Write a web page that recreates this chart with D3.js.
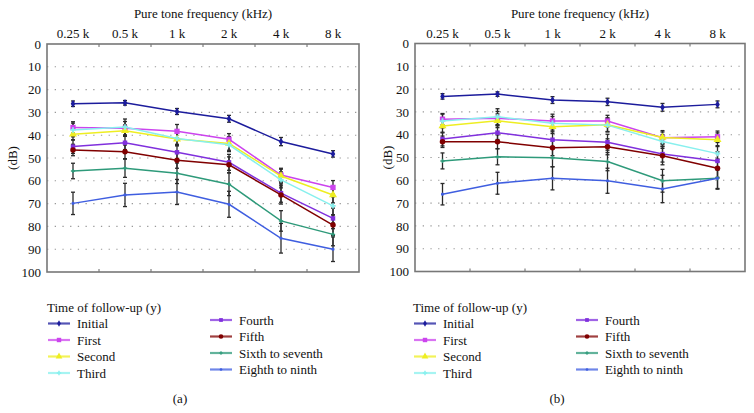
<!DOCTYPE html>
<html>
<head>
<meta charset="utf-8">
<script src="https://cdn.jsdelivr.net/npm/d3@7"></script>
<style>
  html, body { margin: 0; padding: 0; background: #fff; }
  svg { display: block; }
  text { font-family: "Liberation Serif", "Times New Roman", serif; fill: #111; }
</style>
</head>
<body>
<svg id="chart" width="754" height="413"></svg>
<script>
// ---------- data ----------
const frequencies = ["0.25 k", "0.5 k", "1 k", "2 k", "4 k", "8 k"];
const seriesNames = ["Initial", "First", "Second", "Third", "Fourth", "Fifth", "Sixth to seventh", "Eighth to ninth"];
const seriesColors = ["#1c1c9c", "#cc44ee", "#eeee22", "#88f0ee", "#8030dd", "#800000", "#2e9a7a", "#3f5ee0"];
const yTicks = [0, 10, 20, 30, 40, 50, 60, 70, 80, 90, 100];
const legendTitle = "Time of follow-up (y)";
const xTitle = "Pure tone frequency (kHz)";
const yTitle = "(dB)";
const panelCaptions = ["(a)", "(b)"];

// Panel (a) means (dB)
const aInitial = [26.2, 25.8, 29.6, 32.8, 42.8, 48.2];
const aFirst   = [36.6, 37.0, 38.3, 41.8, 57.5, 62.9];
const aSecond  = [39.6, 38.0, 41.7, 43.6, 57.9, 66.2];
const aThird   = [37.7, 36.4, 41.4, 44.2, 59.6, 71.0];
const aFourth  = [45.0, 43.3, 47.5, 51.9, 65.4, 76.5];
const aFifth   = [46.5, 47.3, 51.0, 53.0, 66.2, 79.4];
const aSixth   = [55.7, 54.5, 56.7, 61.5, 77.6, 83.5];
const aEighth  = [69.9, 66.2, 64.9, 70.3, 85.2, 90.0];
// Panel (a) errors (± dB)
const aInitialErr = [1.2, 1.0, 1.3, 1.5, 1.8, 1.4];
const aFirstErr   = [2.5, 3.0, 3.0, 2.5, 3.0, 3.0];
const aSecondErr  = [2.5, 2.5, 3.0, 3.0, 3.0, 3.5];
const aThirdErr   = [3.0, 3.5, 3.0, 3.0, 3.5, 4.0];
const aFourthErr  = [3.0, 3.0, 3.5, 3.5, 4.0, 4.5];
const aFifthErr   = [2.5, 3.0, 3.5, 3.5, 4.0, 4.5];
const aSixthErr   = [3.4, 4.0, 4.5, 5.0, 4.5, 5.0];
const aEighthErr  = [4.9, 5.1, 5.5, 5.7, 6.5, 5.4];

// Panel (b) means (dB)
const bInitial = [23.2, 22.2, 24.8, 25.6, 28.0, 26.7];
const bFirst   = [33.2, 32.8, 34.0, 34.0, 41.3, 40.9];
const bSecond  = [36.2, 33.9, 36.5, 35.6, 41.2, 42.2];
const bThird   = [34.0, 32.1, 35.0, 35.8, 43.0, 48.3];
const bFourth  = [41.9, 39.1, 42.2, 43.3, 48.5, 51.5];
const bFifth   = [43.1, 43.1, 45.7, 45.3, 49.2, 54.7];
const bSixth   = [51.5, 49.7, 50.1, 51.8, 60.2, 59.1];
const bEighth  = [66.1, 61.3, 59.1, 60.2, 63.8, 59.1];
// Panel (b) errors (± dB)
const bInitialErr = [1.2, 1.0, 1.5, 1.6, 1.7, 1.5];
const bFirstErr   = [2.5, 3.0, 3.0, 2.5, 2.5, 2.5];
const bSecondErr  = [3.0, 3.0, 3.0, 3.0, 3.0, 3.0];
const bThirdErr   = [3.0, 3.5, 3.0, 3.0, 3.0, 3.5];
const bFourthErr  = [3.0, 3.0, 3.5, 3.5, 3.5, 4.0];
const bFifthErr   = [2.5, 3.0, 3.5, 3.5, 4.0, 4.0];
const bSixthErr   = [3.5, 3.5, 4.0, 4.0, 5.0, 4.5];
const bEighthErr  = [4.7, 4.8, 5.1, 5.5, 6.0, 4.8];

const panelAValues = [aInitial, aFirst, aSecond, aThird, aFourth, aFifth, aSixth, aEighth];
const panelAErrors = [aInitialErr, aFirstErr, aSecondErr, aThirdErr, aFourthErr, aFifthErr, aSixthErr, aEighthErr];
const panelBValues = [bInitial, bFirst, bSecond, bThird, bFourth, bFifth, bSixth, bEighth];
const panelBErrors = [bInitialErr, bFirstErr, bSecondErr, bThirdErr, bFourthErr, bFifthErr, bSixthErr, bEighthErr];

// ---------- drawing ----------
const FONT = '"Liberation Serif", "Times New Roman", serif';
const symbolTypes = [d3.symbolDiamond, d3.symbolSquare, d3.symbolTriangle, d3.symbolCross,
                     d3.symbolSquare, d3.symbolCircle, d3.symbolCross, d3.symbolCircle];
const symbolSizes = [18, 28, 28, 16, 20, 24, 10, 8];

const svg = d3.select("#chart");

const panels = [
  { values: panelAValues, errors: panelAErrors, left: 47, right: 359, top: 44, bottom: 272,
    ylab: 12, legendX: 47, caption: panelCaptions[0], captionX: 180 },
  { values: panelBValues, errors: panelBErrors, left: 415, right: 745, top: 43.5, bottom: 271.5,
    ylab: 387, legendX: 413, caption: panelCaptions[1], captionX: 557 }
];

panels.forEach(p => {
  const g = svg.append("g");
  const x = d3.scaleBand().domain(frequencies).range([p.left, p.right]);
  const y = d3.scaleLinear().domain([0, 100]).range([p.top, p.bottom]);
  const cx = f => x(f) + x.bandwidth() / 2;

  // grid
  g.append("g").selectAll("line").data(yTicks.filter(t => t > 0 && t < 100)).join("line")
    .attr("x1", p.left).attr("x2", p.right)
    .attr("y1", d => y(d)).attr("y2", d => y(d))
    .attr("stroke", "#999").attr("stroke-width", 1.1).attr("stroke-dasharray", "1.3,6.4");

  // y axis labels
  const yAxis = d3.axisLeft(y).tickValues(yTicks).tickSize(0).tickPadding(6);
  const ya = g.append("g").attr("transform", `translate(${p.left},0)`).call(yAxis)
    .attr("font-family", FONT).attr("font-size", 13);
  ya.select(".domain").remove();
  ya.selectAll("text").attr("fill", "#111");

  // x axis on top
  const xAxis = d3.axisTop(x).tickSize(0).tickPadding(6);
  const xa = g.append("g").attr("transform", `translate(0,${p.top})`).call(xAxis)
    .attr("font-family", FONT).attr("font-size", 13);
  xa.select(".domain").remove();
  xa.selectAll("text").attr("fill", "#111");

  // small inward ticks at band boundaries
  const bounds = frequencies.slice(1).map(f => x(f));
  g.append("g").selectAll("line").data(bounds).join("line")
    .attr("x1", d => d).attr("x2", d => d).attr("y1", p.top).attr("y2", p.top + 3)
    .attr("stroke", "#666").attr("stroke-width", 1);
  g.append("g").selectAll("line").data(bounds).join("line")
    .attr("x1", d => d).attr("x2", d => d).attr("y1", p.bottom).attr("y2", p.bottom - 3)
    .attr("stroke", "#666").attr("stroke-width", 1);

  // titles
  g.append("text").attr("x", (p.left + p.right) / 2).attr("y", 18).attr("text-anchor", "middle")
    .style("font-size", "13px").text(xTitle);
  g.append("text").attr("transform", `translate(${p.ylab},${(p.top + p.bottom) / 2}) rotate(-90)`)
    .attr("text-anchor", "middle").attr("dy", "0.35em").style("font-size", "13px").text(yTitle);

  // error bars
  p.values.forEach((vals, si) => {
    const eg = g.append("g");
    const data = vals.map((v, i) => ({ f: frequencies[i], v, e: p.errors[si][i] }));
    eg.selectAll("line.v").data(data).join("line").attr("class", "v")
      .attr("x1", d => cx(d.f)).attr("x2", d => cx(d.f))
      .attr("y1", d => y(d.v - d.e)).attr("y2", d => y(d.v + d.e))
      .attr("stroke", "#2a2a2a").attr("stroke-width", 1.3);
    ["lo", "hi"].forEach(k => {
      eg.selectAll("line." + k).data(data).join("line").attr("class", k)
        .attr("x1", d => cx(d.f) - 2).attr("x2", d => cx(d.f) + 2)
        .attr("y1", d => y(k === "lo" ? d.v - d.e : d.v + d.e))
        .attr("y2", d => y(k === "lo" ? d.v - d.e : d.v + d.e))
        .attr("stroke", "#2a2a2a").attr("stroke-width", 1.3);
    });
  });

  // lines + markers
  const line = d3.line().x((d, i) => cx(frequencies[i])).y(d => y(d));
  p.values.forEach((vals, si) => {
    g.append("path").datum(vals).attr("d", line).attr("fill", "none")
      .attr("stroke", seriesColors[si]).attr("stroke-width", 1.5);
    const sym = d3.symbol().type(symbolTypes[si]).size(symbolSizes[si]);
    g.append("g").selectAll("path").data(vals).join("path")
      .attr("transform", (d, i) => `translate(${cx(frequencies[i])},${y(d)})`)
      .attr("d", sym).attr("fill", seriesColors[si]);
  });

  // frame
  g.append("rect").attr("x", p.left).attr("y", p.top)
    .attr("width", p.right - p.left).attr("height", p.bottom - p.top)
    .attr("fill", "none").attr("stroke", "#777").attr("stroke-width", 1.6);

  // legend
  const lg = g.append("g");
  lg.append("text").attr("x", p.legendX).attr("y", 312).style("font-size", "13px").text(legendTitle);
  seriesNames.forEach((name, si) => {
    const col = si < 4 ? 0 : 1;
    const row = si % 4;
    const sx = p.legendX + 1 + col * 162;
    const sy = (col === 0 ? 323.5 : 320) + row * 16.5;
    lg.append("line").attr("x1", sx).attr("x2", sx + 22).attr("y1", sy).attr("y2", sy)
      .attr("stroke", seriesColors[si]).attr("stroke-width", 2.2).attr("stroke-opacity", 0.75);
    lg.append("path").attr("transform", `translate(${sx + 11},${sy})`)
      .attr("d", d3.symbol().type(symbolTypes[si]).size(symbolSizes[si] * 0.7)())
      .attr("fill", seriesColors[si]);
    lg.append("text").attr("x", sx + 29).attr("y", sy).attr("dy", "0.35em")
      .style("font-size", "13px").text(name);
  });

  g.append("text").attr("x", p.captionX).attr("y", 403).attr("text-anchor", "middle")
    .style("font-size", "13px").text(p.caption);
});
</script>
</body>
</html>
